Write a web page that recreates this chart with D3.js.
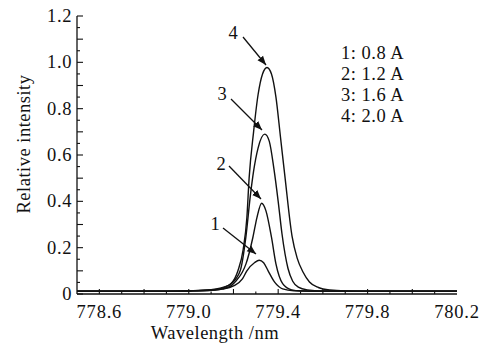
<!DOCTYPE html>
<html><head><meta charset="utf-8">
<script src="https://cdn.jsdelivr.net/npm/d3@7"></script>
<style>body{margin:0;background:#fff}svg{display:block}text{font-family:"Liberation Serif","Times New Roman",serif;fill:#111}</style>
</head><body><svg id="c" width="490" height="344"></svg>
<script>
// ---- data ----
const xTickLabels = [778.6, 779.0, 779.4, 779.8, 780.2];
const yTickLabels = [0, 0.2, 0.4, 0.6, 0.8, 1.0, 1.2];
const legendLabels = ["1: 0.8 A", "2: 1.2 A", "3: 1.6 A", "4: 2.0 A"];
const curve1 = [[778.5,0.012],[778.9,0.012],[779.0,0.013],[779.1,0.016],[779.15,0.021],[779.2,0.035],[779.24,0.065],[779.26,0.1],[779.295,0.136],[779.315,0.146],[779.335,0.135],[779.355,0.1],[779.385,0.05],[779.42,0.022],[779.47,0.014],[779.6,0.012],[780.2,0.012]];
const curve2 = [[778.5,0.012],[778.9,0.012],[779.0,0.013],[779.1,0.016],[779.15,0.022],[779.19,0.036],[779.21,0.055],[779.24,0.095],[779.256,0.13],[779.287,0.245],[779.305,0.33],[779.326,0.392],[779.345,0.36],[779.37,0.245],[779.39,0.13],[779.42,0.045],[779.46,0.018],[779.5,0.013],[779.6,0.012],[780.2,0.012]];
const curve3 = [[778.5,0.012],[778.9,0.012],[779.0,0.013],[779.1,0.017],[779.15,0.025],[779.19,0.045],[779.23,0.1],[779.256,0.25],[779.275,0.42],[779.29,0.53],[779.31,0.63],[779.34,0.69],[779.36,0.66],[779.381,0.54],[779.4,0.4],[779.417,0.26],[779.444,0.11],[779.465,0.055],[779.49,0.03],[779.53,0.018],[779.6,0.013],[779.8,0.012],[780.2,0.012]];
const curve4 = [[778.5,0.012],[778.9,0.012],[779.0,0.014],[779.1,0.019],[779.14,0.025],[779.167,0.033],[779.19,0.045],[779.22,0.1],[779.243,0.19],[779.26,0.33],[779.27,0.5],[779.29,0.7],[779.31,0.86],[779.33,0.95],[779.35,0.978],[779.37,0.95],[779.39,0.85],[779.41,0.68],[779.431,0.5],[779.462,0.25],[779.485,0.155],[779.511,0.095],[779.54,0.052],[779.58,0.028],[779.63,0.017],[779.7,0.013],[779.8,0.012],[780.2,0.012]];
const curves = [curve1, curve2, curve3, curve4];
const peakLabels = ["1","2","3","4"];
// ---- chart ----
const svg = d3.select("#c");
const x = d3.scaleLinear().domain([778.5, 780.2]).range([77, 457]);
const y = d3.scaleLinear().domain([0, 1.2]).range([294, 16]);
const g = svg.append("g");
const line = d3.line().x(d=>x(d[0])).y(d=>y(d[1])).curve(d3.curveMonotoneX);
curves.forEach(c=>{
  g.append("path").datum(c).attr("d", line).attr("fill","none").attr("stroke","#111").attr("stroke-width",1.4);
});
// axes
const ax = svg.append("g");
ax.append("line").attr("x1",x(778.5)).attr("x2",x(780.2)).attr("y1",y(0)).attr("y2",y(0)).attr("stroke","#111").attr("stroke-width",1.3);
ax.append("line").attr("x1",x(778.5)).attr("x2",x(778.5)).attr("y1",y(0)).attr("y2",y(1.2)).attr("stroke","#111").attr("stroke-width",1.3);
// x ticks
d3.range(0, 16).forEach(i=>{
  const v = 778.6 + i*0.1;
  const major = i % 2 === 0;
  ax.append("line").attr("x1",x(v)).attr("x2",x(v)).attr("y1",y(0)).attr("y2",y(0)-(major?5:2.5)).attr("stroke","#111").attr("stroke-width",1.1);
});
const fs = 18.5;
xTickLabels.forEach(v=>{
  ax.append("text").attr("x",x(v)).attr("y",318).attr("text-anchor","middle").attr("font-size",fs).attr("letter-spacing",0.8).text(v.toFixed(1));
});
// y ticks
d3.range(0, 25).forEach(i=>{
  const v = i*0.05;
  const major = i % 2 === 0;
  ax.append("line").attr("x1",x(778.5)).attr("x2",x(778.5)+(major?6:3)).attr("y1",y(v)).attr("y2",y(v)).attr("stroke","#111").attr("stroke-width",1.1);
});
yTickLabels.forEach(v=>{
  ax.append("text").attr("x",72).attr("y",y(v)+6).attr("text-anchor","end").attr("font-size",fs).attr("letter-spacing",0.6).text(v===0?"0":v.toFixed(1));
});
svg.append("text").attr("x",215).attr("y",339).attr("text-anchor","middle").attr("font-size",fs).attr("letter-spacing",0.5).text("Wavelength /nm");
svg.append("text").attr("transform","translate(30,144) rotate(-90)").attr("text-anchor","middle").attr("font-size",fs).attr("letter-spacing",0.5).text("Relative intensity");
// legend
legendLabels.forEach((t,i)=>{
  svg.append("text").attr("x",341).attr("y",59+i*21).attr("font-size",fs).attr("letter-spacing",0.5).text(t);
});
// peak arrows
svg.append("defs").append("marker").attr("id","ah").attr("viewBox","0 0 10 10").attr("refX",10).attr("refY",5)
  .attr("markerWidth",9).attr("markerHeight",9).attr("markerUnits","userSpaceOnUse").attr("orient","auto")
  .append("path").attr("d","M0,1 L10,5 L0,9 Z").attr("fill","#111");
const arrows = [
  {lab:[215,230], from:[223,228], to:[256,254]},
  {lab:[221,170], from:[229,166], to:[261,199]},
  {lab:[222,100], from:[231,99], to:[262,130]},
  {lab:[233,39], from:[243,37], to:[266,65]}
];
arrows.forEach((a,i)=>{
  svg.append("text").attr("x",a.lab[0]).attr("y",a.lab[1]).attr("text-anchor","middle").attr("font-size",fs).text(peakLabels[i]);
  svg.append("line").attr("x1",a.from[0]).attr("y1",a.from[1]).attr("x2",a.to[0]).attr("y2",a.to[1]).attr("stroke","#111").attr("stroke-width",1.3).attr("marker-end","url(#ah)");
});
</script></body></html>
